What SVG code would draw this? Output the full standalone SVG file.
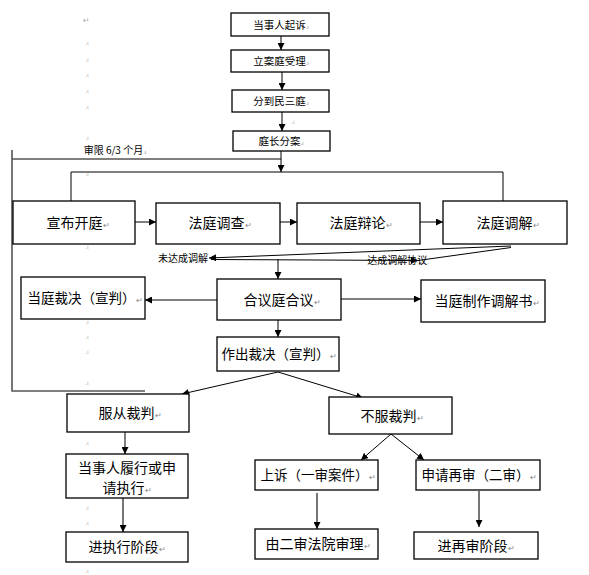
<svg xmlns="http://www.w3.org/2000/svg" width="589" height="575" viewBox="0 0 589 575">
<defs>
<marker id="ah" viewBox="0 0 10 10" refX="10" refY="5" markerWidth="7" markerHeight="7" markerUnits="userSpaceOnUse" orient="auto">
<path d="M0,0 L10,5 L0,10 z" fill="#000"/>
</marker>
<style>
.box{fill:#fff;stroke:#000;stroke-width:1.3}
.t{font-family:"Noto Sans CJK SC","Noto Sans",sans-serif;fill:#000;text-anchor:middle}
.s{font-size:10.5px}
.m{font-size:13.5px}
.r{fill:#888;font-size:8px}
.mk{font-family:"DejaVu Sans",sans-serif;fill:#aaa;font-size:6px}
.c{fill:none;stroke:#000;stroke-width:1}
.g{fill:none;stroke:#555;stroke-width:1.6}
.a{marker-end:url(#ah)}
</style>
</defs>
<rect width="589" height="575" fill="#fff"/>

<g id="marks">
<text class="mk" x="83" y="23" style="font-size:8px">↵</text>
<text class="mk" x="85" y="45">.ı</text>
<text class="mk" x="85" y="62">.ı</text>
<text class="mk" x="85" y="77">.ı</text>
<text class="mk" x="85" y="93">.ı</text>
<text class="mk" x="85" y="109">.ı</text>
<text class="mk" x="85" y="140">.ı</text>
<text class="mk" x="291" y="124">.ı</text>
<text class="mk" x="85" y="176">.ı</text>
<text class="mk" x="98" y="204">.ı</text>
<text class="mk" x="85" y="249">.ı</text>
<text class="mk" x="85" y="324">.ı</text>
<text class="mk" x="85" y="339">.ı</text>
<text class="mk" x="85" y="354">.ı</text>
<text class="mk" x="85" y="385">.ı</text>
<text class="mk" x="85" y="445">.ı</text>
<text class="mk" x="85" y="510">.ı</text>
<text class="mk" x="85" y="525">.ı</text>
<text class="mk" x="85" y="573">.ı</text>
</g>

<g id="connectors">
<line class="c a" x1="281" y1="36" x2="281" y2="50"/>
<line class="c a" x1="282" y1="72" x2="282" y2="90"/>
<line class="c a" x1="282" y1="112" x2="282" y2="131"/>
<line class="c a" x1="281" y1="151" x2="281" y2="172"/>
<line class="c" x1="12" y1="159" x2="281" y2="159"/>
<polyline class="g" points="12,150 12,391 145,391"/>
<polyline class="c" points="71,201 71,172 503,172 503,201"/>
<line class="c a" x1="135" y1="222" x2="156" y2="222"/>
<line class="c a" x1="280" y1="222" x2="297" y2="222"/>
<line class="c a" x1="420" y1="222" x2="443" y2="222"/>
<line class="c a" x1="511" y1="246" x2="209" y2="258"/>
<polyline class="c" points="511,247.5 418,260.5 211,259.5"/>
<line class="c a" x1="396" y1="260" x2="418" y2="260.5"/>
<line class="c a" x1="278" y1="259" x2="278" y2="279"/>
<line class="c a" x1="217" y1="300" x2="145" y2="300"/>
<line class="c a" x1="341" y1="299" x2="421" y2="299"/>
<line class="c a" x1="278" y1="320" x2="278" y2="337"/>
<line class="c a" x1="278" y1="372" x2="182" y2="394"/>
<line class="c a" x1="278" y1="372" x2="363" y2="398"/>
<line class="c a" x1="125" y1="432" x2="125" y2="454"/>
<line class="g a" x1="123" y1="498" x2="123" y2="532"/>
<line class="c a" x1="391" y1="434" x2="361" y2="460"/>
<line class="c a" x1="391" y1="434" x2="424" y2="460"/>
<line class="g a" x1="317" y1="493" x2="317" y2="529"/>
<line class="g a" x1="479" y1="491" x2="479" y2="527"/>
</g>

<g id="labels">
<text class="t" x="115" y="154" style="font-size:10px">审限 6/3 个月<tspan class="r" style="font-size:6px">.ı</tspan></text>
<text class="t" x="183" y="262" style="font-size:10px">未达成调解</text>
<text class="t" x="398" y="264" style="font-size:10px">达成调解协议<tspan class="r" style="font-size:6px">.</tspan></text>
</g>

<g id="n1"><rect class="box" x="231" y="13" width="98" height="23"/><text class="t s" x="281" y="29">当事人起诉<tspan class="r" style="font-size:6px">.ı</tspan></text></g>
<g id="n2"><rect class="box" x="231" y="50" width="98" height="22"/><text class="t s" x="281" y="65">立案庭受理<tspan class="r" style="font-size:6px">.ı</tspan></text></g>
<g id="n3"><rect class="box" x="232" y="90" width="97" height="22"/><text class="t s" x="281" y="105">分到民三庭<tspan class="r" style="font-size:6px">.ı</tspan></text></g>
<g id="n4"><rect class="box" x="233" y="131" width="97" height="20"/><text class="t s" x="281" y="145">庭长分案<tspan class="r" style="font-size:6px">.ı</tspan></text></g>

<g id="n5"><rect class="box" x="13" y="201" width="122" height="43"/><text class="t" x="78" y="228" style="font-size:14px">宣布开庭<tspan class="r">↵</tspan></text></g>
<g id="n6"><rect class="box" x="156" y="203" width="124" height="41"/><text class="t" x="220" y="228" style="font-size:14px">法庭调查<tspan class="r">↵</tspan></text></g>
<g id="n7"><rect class="box" x="297" y="203" width="123" height="41"/><text class="t" x="361" y="228" style="font-size:14px">法庭辩论<tspan class="r">↵</tspan></text></g>
<g id="n8"><rect class="box" x="443" y="201" width="124" height="43"/><text class="t" x="508" y="228" style="font-size:14px">法庭调解<tspan class="r">↵</tspan></text></g>

<g id="n9"><rect class="box" x="21" y="277" width="124" height="42"/><text class="t m" x="85" y="303">当庭裁决（宣判）<tspan class="r">↵</tspan></text></g>
<g id="n10"><rect class="box" x="217" y="279" width="124" height="41"/><text class="t" x="282" y="305" style="font-size:14px">合议庭合议<tspan class="r">↵</tspan></text></g>
<g id="n11"><rect class="box" x="421" y="280" width="124" height="42"/><text class="t" x="487" y="306" style="font-size:14px">当庭制作调解书<tspan class="r">↵</tspan></text></g>
<g id="n12"><rect class="box" x="217" y="337" width="122" height="34"/><text class="t m" x="279" y="359">作出裁决（宣判）<tspan class="r">↵</tspan></text></g>

<g id="n13"><rect class="box" x="67" y="394" width="122" height="38"/><text class="t" x="130" y="418" style="font-size:14px">服从裁判<tspan class="r">↵</tspan></text></g>
<g id="n14"><rect class="box" x="329" y="397" width="123" height="37"/><text class="t" x="392" y="421" style="font-size:14px">不服裁判<tspan class="r">↵</tspan></text></g>

<g id="n15"><rect class="box" x="66" y="454" width="122" height="44"/><text class="t" x="127" y="473" style="font-size:14px">当事人履行或申</text><text class="t" x="127" y="493" style="font-size:14px">请执行<tspan class="r">↵</tspan></text></g>
<g id="n16"><rect class="box" x="255" y="460" width="123" height="30"/><text class="t m" x="318" y="480">上诉（一审案件）<tspan class="r">↵</tspan></text></g>
<g id="n17"><rect class="box" x="416" y="460" width="124" height="30"/><text class="t m" x="479" y="480">申请再审（二审）<tspan class="r">↵</tspan></text></g>

<g id="n18"><rect class="box" x="66" y="532" width="122" height="30"/><text class="t" x="127" y="552" style="font-size:14px">进执行阶段<tspan class="r">↵</tspan></text></g>
<g id="n19"><rect class="box" x="255" y="529" width="123" height="30"/><text class="t" x="318" y="549" style="font-size:14px">由二审法院审理<tspan class="r">↵</tspan></text></g>
<g id="n20"><rect class="box" x="414" y="532" width="124" height="27"/><text class="t" x="476" y="551" style="font-size:14px">进再审阶段<tspan class="r">↵</tspan></text></g>
</svg>
